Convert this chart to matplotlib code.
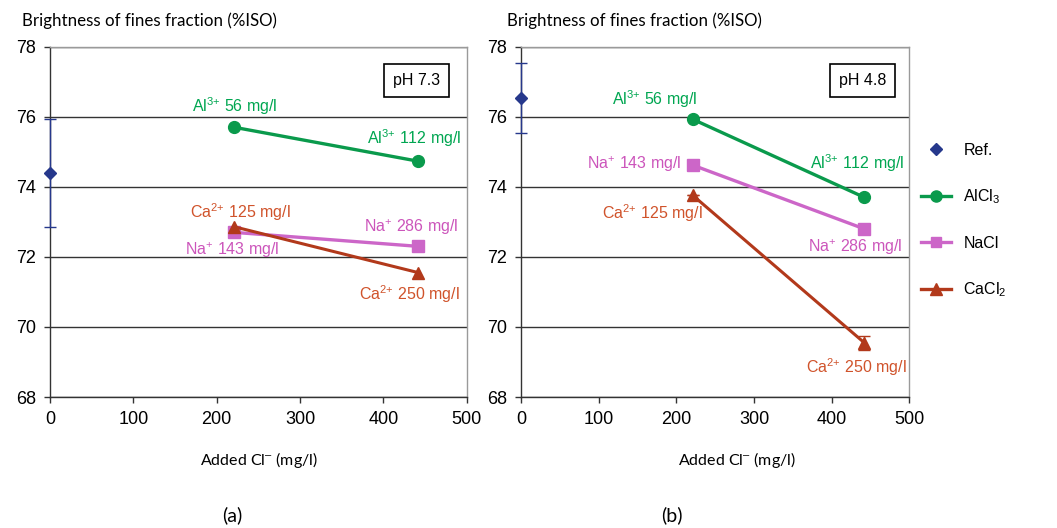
import matplotlib
matplotlib.use("Agg")
import matplotlib.pyplot as plt
from matplotlib.lines import Line2D

plt.rcParams['font.family'] = ['Liberation Sans', 'DejaVu Sans']
plt.rcParams['mathtext.fontset'] = 'custom'
plt.rcParams['mathtext.rm'] = 'Liberation Sans'
plt.rcParams['mathtext.it'] = 'Liberation Sans'
plt.rcParams['mathtext.bf'] = 'Liberation Sans:bold'

# Added chloride (mg/l)
cl_ref = [0]
cl_salt = [221, 442]

# pH 7.3
ref_a = [74.4]
ref_a_err = [1.55]
al_a = [75.7, 74.73]
na_a = [72.7, 72.3]
ca_a = [72.86, 71.55]

# pH 4.8
ref_b = [76.53]
ref_b_err = [1.0]
al_b = [75.93, 73.7]
na_b = [74.62, 72.8]
ca_b = [73.76, 69.55]
ca_b_err = [0.0, 0.2]

ph_labels = ["pH 7.3", "pH 4.8"]
panel_labels = ["(a)", "(b)"]
al_labels = ["Al$^{3{+}}$ 56 mg/l", "Al$^{3{+}}$ 112 mg/l"]
na_labels = ["Na$^{+}$ 143 mg/l", "Na$^{+}$ 286 mg/l"]
ca_labels = ["Ca$^{2{+}}$ 125 mg/l", "Ca$^{2{+}}$ 250 mg/l"]
legend_labels = ["Ref.", "AlCl$_3$", "NaCl", "CaCl$_2$"]

ref_col = '#26388C'
al_col = '#0A9A4C'
al_txt = '#00A651'
na_col = '#CC66C8'
na_txt = '#CC55BB'
ca_col = '#B2391B'
ca_txt = '#D0532B'

fig = plt.figure(figsize=(10.57, 5.28), dpi=100)
W, H = 1057, 528


def axes_at(x0, x1, y0, y1):
    return fig.add_axes([x0 / W, 1 - y1 / H, (x1 - x0) / W, (y1 - y0) / H])


ax_a = axes_at(50, 466.7, 46.7, 397)
ax_b = axes_at(521, 909.3, 46.7, 397)

label_font = ['Lato', 'DejaVu Sans']


def style(ax):
    ax.set_xlim(0, 500)
    ax.set_ylim(68, 78)
    ax.set_xticks(range(0, 501, 100))
    ax.set_yticks(range(68, 79, 2))
    ax.grid(axis='y', color='#333333', lw=1.0)
    ax.set_axisbelow(True)
    for s in ['top', 'right']:
        ax.spines[s].set_color('#9a9a9a')
        ax.spines[s].set_linewidth(1.0)
    for s in ['left', 'bottom']:
        ax.spines[s].set_color('#333333')
        ax.spines[s].set_linewidth(1.0)
    ax.tick_params(axis='both', labelsize=13, length=4, width=1.0, color='#333333')
    ax.tick_params(axis='y', pad=6)
    ax.tick_params(axis='x', pad=6)


def draw(ax, ref, ref_err, al, na, ca, ca_err, ph, offsets):
    style(ax)
    ax.errorbar(cl_ref, ref, yerr=ref_err, fmt='D', color=ref_col, ms=6,
                ecolor=ref_col, elinewidth=1.0, capsize=4, capthick=1.0,
                clip_on=False, zorder=5)
    ax.plot(cl_salt, al, '-o', color=al_col, lw=2.4, ms=8.5, zorder=4)
    ax.plot(cl_salt, na, '-s', color=na_col, lw=2.4, ms=8, zorder=4)
    ax.errorbar(cl_salt, ca, yerr=ca_err, fmt='-^', color=ca_col, lw=2.2, ms=8.5,
                ecolor=ca_col, elinewidth=1.0, capsize=4, capthick=1.0, zorder=4)
    groups = [(al, al_labels, al_txt, offsets['al']),
              (na, na_labels, na_txt, offsets['na']),
              (ca, ca_labels, ca_txt, offsets['ca'])]
    for vals, labs, col, offs in groups:
        for x, y, lab, off in zip(cl_salt, vals, labs, offs):
            ax.annotate(lab, xy=(x, y), xytext=off, textcoords='offset pixels',
                        ha='center', va='center', color=col, fontsize=11.5)
    ax.text(0.88, 0.903, ph, transform=ax.transAxes, ha='center', va='center',
            fontsize=11.5, bbox=dict(boxstyle='square,pad=0.55', fc='white',
                                     ec='black', lw=1.2))


draw(ax_a, ref_a, ref_a_err, al_a, na_a, ca_a, None, ph_labels[0],
     {'al': [(1, 21), (-4, 23)],
      'na': [(-2, -18), (-7, 19)],
      'ca': [(6, 15), (-9, -22)]})
draw(ax_b, ref_b, ref_b_err, al_b, na_b, ca_b, ca_b_err, ph_labels[1],
     {'al': [(-38, 20), (-7, 34)],
      'na': [(-58, 1), (-9, -18)],
      'ca': [(-40, -18), (-8, -24)]})

# Axis titles and panel letters
for x0, xl_c in [(22, 259), (507, 737)]:
    fig.text(x0 / W, 1 - 21 / H, "Brightness of fines fraction (%ISO)",
             family=label_font, fontsize=12.2, ha='left', va='center')
    fig.text(xl_c / W, 1 - 460 / H, "Added Cl$^{\u2013}$ (mg/l)",
             family=label_font, fontsize=11.5, ha='center', va='center')
for pl_c, lab in zip([232, 672], panel_labels):
    fig.text(pl_c / W, 1 - 515 / H, lab, family=label_font, fontsize=14,
             ha='center', va='center')

# Legend
handles = [
    Line2D([], [], ls='none', marker='D', color=ref_col, ms=6),
    Line2D([], [], color=al_col, marker='o', lw=2.4, ms=8),
    Line2D([], [], color=na_col, marker='s', lw=2.4, ms=7.5),
    Line2D([], [], color=ca_col, marker='^', lw=2.4, ms=8),
]
fig.legend(handles, legend_labels, loc='upper left',
           bbox_to_anchor=(921 / W, 1 - 143 / H), frameon=False,
           fontsize=11.5, handlelength=1.9, handletextpad=0.75,
           labelspacing=1.85, borderaxespad=0, borderpad=0)

fig.savefig('out.png', dpi=100, facecolor='white')
